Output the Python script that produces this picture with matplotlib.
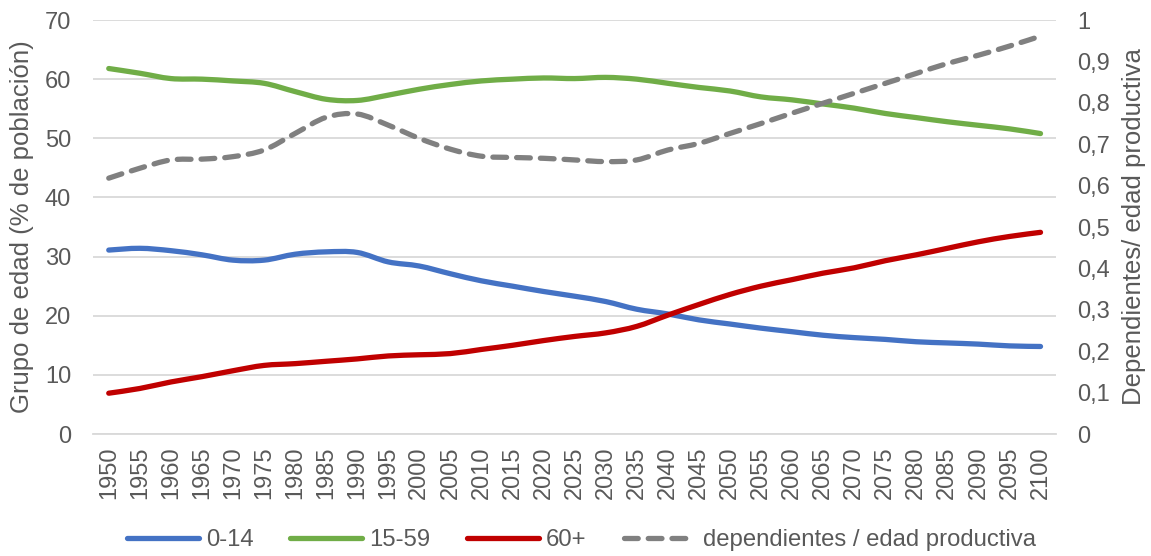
import matplotlib
matplotlib.use("Agg")
import matplotlib.pyplot as plt
from matplotlib.ticker import FuncFormatter
from matplotlib.path import Path
from matplotlib.patches import PathPatch
from matplotlib.lines import Line2D

plt.rcParams['font.family'] = ['Liberation Sans', 'DejaVu Sans']

years = list(range(1950, 2101, 5))

age_0_14 = [31.1, 31.4, 31.0, 30.3, 29.4, 29.4, 30.4, 30.8, 30.7, 29.1,
            28.4, 27.1, 25.9, 25.0, 24.1, 23.3, 22.4, 21.1, 20.3, 19.3,
            18.6, 17.9, 17.3, 16.7, 16.3, 16.0, 15.6, 15.4, 15.2, 14.9, 14.8]

age_15_59 = [61.8, 61.0, 60.1, 60.0, 59.7, 59.3, 57.9, 56.6, 56.4, 57.3,
             58.3, 59.1, 59.7, 60.0, 60.2, 60.1, 60.3, 60.0, 59.3, 58.6,
             58.0, 57.0, 56.5, 55.8, 55.1, 54.2, 53.5, 52.8, 52.2, 51.6, 50.8]

age_60_plus = [6.9, 7.7, 8.8, 9.7, 10.7, 11.6, 11.9, 12.3, 12.7, 13.2,
               13.4, 13.6, 14.3, 15.0, 15.8, 16.5, 17.1, 18.2, 20.1, 21.9,
               23.6, 25.0, 26.1, 27.2, 28.1, 29.3, 30.3, 31.4, 32.5, 33.4, 34.1]

dependency_ratio = [0.618, 0.642, 0.662, 0.664, 0.670, 0.686, 0.726, 0.765, 0.773, 0.746,
                    0.714, 0.688, 0.671, 0.668, 0.666, 0.662, 0.658, 0.662, 0.686, 0.702,
                    0.726, 0.750, 0.775, 0.799, 0.823, 0.847, 0.871, 0.895, 0.915, 0.937, 0.961]

series_labels = ['0-14', '15-59', '60+', 'dependientes / edad productiva']
left_label = 'Grupo de edad (% de población)'
right_label = 'Dependientes/ edad productiva'

BLUE = '#4472C4'
GREEN = '#70AD47'
RED = '#C00000'
GRAY = '#808080'
TEXT = '#595959'
GRID = '#D9D9D9'
TICK_FS = 17
TITLE_FS = 18.5
LEGEND_FS = 17.2
LW = 3.8
DASH = (2.6, 1.9)


def smooth_path(xs, ys):
    """Cubic Bezier path through every point (Catmull-Rom style tangents)."""
    n = len(xs)
    verts = [(xs[0], ys[0])]
    codes = [Path.MOVETO]
    for i in range(n - 1):
        x0, y0 = (xs[i - 1], ys[i - 1]) if i > 0 else (xs[i], ys[i])
        x1, y1 = xs[i], ys[i]
        x2, y2 = xs[i + 1], ys[i + 1]
        x3, y3 = (xs[i + 2], ys[i + 2]) if i + 2 < n else (x2, y2)
        c1 = (x1 + (x2 - x0) / 6.0, y1 + (y2 - y0) / 6.0)
        c2 = (x2 - (x3 - x1) / 6.0, y2 - (y3 - y1) / 6.0)
        verts += [c1, c2, (x2, y2)]
        codes += [Path.CURVE4] * 3
    return Path(verts, codes)


def draw_series(axis, xs, ys, color, **style):
    patch = PathPatch(smooth_path(xs, ys), facecolor='none', edgecolor=color,
                      lw=LW, capstyle='round', joinstyle='round', **style)
    axis.add_patch(patch)


fig = plt.figure(figsize=(11.51, 5.56), dpi=100)
ax = fig.add_axes([0.081, 0.2194, 0.8365, 0.7446])
ax2 = ax.twinx()

x = list(range(len(years)))
draw_series(ax, x, age_0_14, BLUE)
draw_series(ax, x, age_15_59, GREEN)
draw_series(ax, x, age_60_plus, RED)
draw_series(ax2, x, dependency_ratio, GRAY, linestyle=(0, DASH))

ax.set_xlim(-0.5, len(years) - 0.5)
ax.set_ylim(0, 70)
ax2.set_ylim(0, 1)
ax.set_yticks(range(0, 71, 10))
ax2.set_yticks([i / 10 for i in range(11)])
ax2.yaxis.set_major_formatter(FuncFormatter(
    lambda v, p: '0' if abs(v) < 1e-9 else ('1' if abs(v - 1) < 1e-9 else f'{v:.1f}'.replace('.', ','))))

ax.set_xticks(x)
ax.set_xticklabels([str(y) for y in years], rotation=90)

ax.yaxis.grid(True, color=GRID, lw=1.3)
ax.set_axisbelow(True)
for a in (ax, ax2):
    for s in a.spines.values():
        s.set_visible(False)
    a.tick_params(length=0, labelsize=TICK_FS, labelcolor=TEXT)
ax.spines['bottom'].set_visible(True)
ax.spines['bottom'].set_color(GRID)
ax.spines['bottom'].set_linewidth(1.3)
ax.tick_params(axis='y', pad=16)
ax.tick_params(axis='x', pad=9)
ax2.tick_params(axis='y', pad=15)

ax.set_ylabel(left_label, fontsize=TITLE_FS, color=TEXT, labelpad=8)
ax2.set_ylabel(right_label, fontsize=TITLE_FS, color=TEXT, rotation=90, labelpad=9)

handles = [
    Line2D([], [], color=BLUE, lw=LW, solid_capstyle='round'),
    Line2D([], [], color=GREEN, lw=LW, solid_capstyle='round'),
    Line2D([], [], color=RED, lw=LW, solid_capstyle='round'),
    Line2D([], [], color=GRAY, lw=LW, dashes=DASH, dash_capstyle='round'),
]
fig.legend(handles=handles, labels=series_labels, loc='lower center',
           bbox_to_anchor=(0.505, -0.03), ncol=4, frameon=False, fontsize=LEGEND_FS,
           labelcolor=TEXT, handlelength=3.0, columnspacing=1.55, handletextpad=0.3)

fig.savefig('out.png', dpi=100)
